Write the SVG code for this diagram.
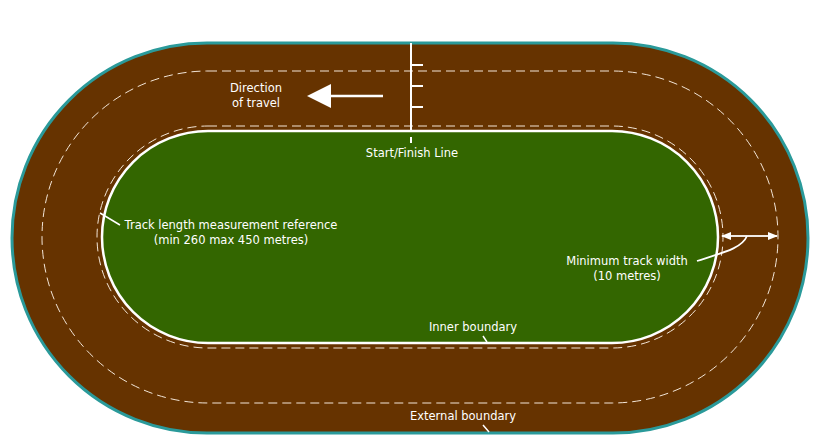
<svg xmlns="http://www.w3.org/2000/svg" width="820" height="445" viewBox="0 0 820 445">
<style>
text{font-family:"DejaVu Sans",sans-serif;font-size:11.5px;fill:#fff;text-anchor:middle}
.w{stroke:#fff;fill:none}
.d{stroke:#f3e6d8;fill:none;stroke-width:1;stroke-dasharray:9,5}
</style>
<defs><marker id="ah" markerWidth="10" markerHeight="8" refX="9" refY="4" orient="auto" markerUnits="userSpaceOnUse"><path d="M0,0L10,4L0,8z" fill="#fff"/></marker></defs>
<g id="track">
<rect x="12" y="43" width="796" height="390" rx="195" fill="#663300" stroke="#2a9a9a" stroke-width="3"/>
<rect x="42" y="71" width="736" height="332" rx="166" class="d"/>
<rect x="97" y="126" width="626" height="222" rx="111" class="d"/>
<rect x="102" y="131" width="616" height="212" rx="106" fill="#336600" stroke="#fff" stroke-width="2.5"/>
</g>
<g id="connectors">
<path class="w" stroke-width="2" d="M411,43V131M411,65H423M411,86H423M411,107H423M411,137V143"/>
<path class="w" stroke-width="2.5" d="M383,96H330"/>
<path d="M307,96L331,84V108z" fill="#fff"/>
<path class="w" stroke-width="1.8" d="M745,236H722" marker-end="url(#ah)"/>
<path class="w" stroke-width="1.8" d="M745,236H777" marker-end="url(#ah)"/>
<path class="w" stroke-width="1.8" d="M697,261C725,252 742,248 747,236"/>
<path class="w" stroke-width="1.5" d="M100,213L120,225M483,336L487,342M483,425L489,432"/>
</g>
<g id="labels">
<text x="256" y="92">Direction</text>
<text x="256" y="107">of travel</text>
<text x="412" y="157">Start/Finish Line</text>
<text x="231" y="229">Track length measurement reference</text>
<text x="231" y="244">(min 260 max 450 metres)</text>
<text x="627" y="265">Minimum track width</text>
<text x="627" y="280">(10 metres)</text>
<text x="473" y="331">Inner boundary</text>
<text x="463" y="420">External boundary</text>
</g>
</svg>
